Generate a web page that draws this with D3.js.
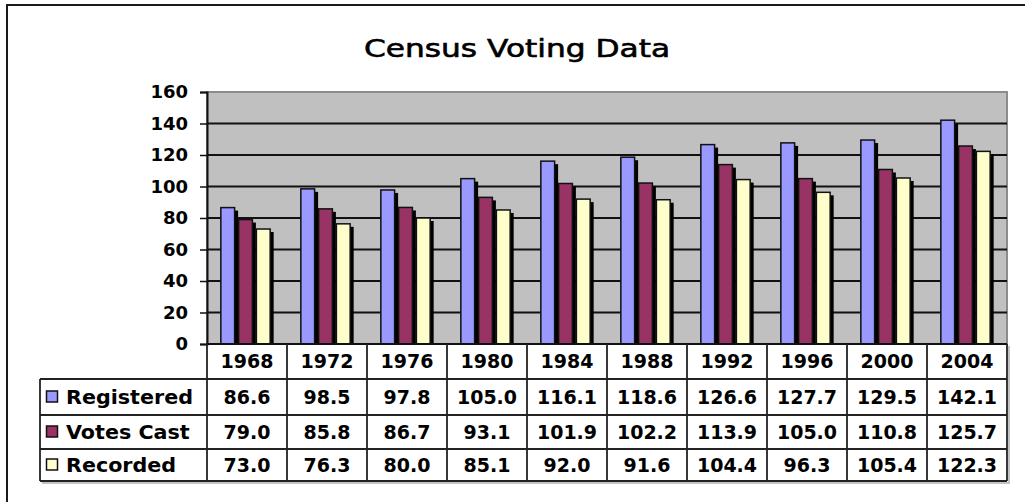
<!DOCTYPE html>
<html>
<head>
<meta charset="utf-8">
<script src="https://cdn.jsdelivr.net/npm/d3@7"></script>
<style>
  body { margin: 0; background: #fff; }
  svg text { font-family: "DejaVu Sans", sans-serif; }
</style>
</head>
<body>
<script>
const width = 1025;
const height = 502;

// data
const years = ["1968", "1972", "1976", "1980", "1984", "1988", "1992", "1996", "2000", "2004"];
const seriesNames = ["Registered", "Votes Cast", "Recorded"];
const registered = [86.6, 98.5, 97.8, 105.0, 116.1, 118.6, 126.6, 127.7, 129.5, 142.1];
const votesCast = [79.0, 85.8, 86.7, 93.1, 101.9, 102.2, 113.9, 105.0, 110.8, 125.7];
const recorded = [73.0, 76.3, 80.0, 85.1, 92.0, 91.6, 104.4, 96.3, 105.4, 122.3];
const yTicks = [0, 20, 40, 60, 80, 100, 120, 140, 160];
const colors = ["#9999ff", "#993366", "#ffffcc"];

const seriesValues = [registered, votesCast, recorded];

const svg = d3.select("body").append("svg").attr("width", width).attr("height", height);

// outer frame (cut off at right and bottom)
svg.append("rect")
    .attr("x", 7).attr("y", 5)
    .attr("width", width + 20).attr("height", height + 20)
    .attr("fill", "none").attr("stroke", "#1a1a1a").attr("stroke-width", 2);

// title
svg.append("text")
    .attr("transform", "translate(517,57) scale(1.25,1)")
    .attr("text-anchor", "middle")
    .attr("font-size", "25px")
    .attr("fill", "#000")
    .attr("stroke", "#000").attr("stroke-width", 0.6)
    .text("Census Voting Data");

// scales
const x0 = d3.scaleBand().domain(years).range([207, 1007]).paddingInner(0).paddingOuter(0);
const x1 = d3.scaleBand().domain(seriesNames).range([0, x0.bandwidth()]).paddingOuter(0.75);
const y = d3.scaleLinear().domain([0, 160]).range([344, 92]);

// plot area
svg.append("rect")
    .attr("x", x0.range()[0]).attr("y", y(160))
    .attr("width", x0.range()[1] - x0.range()[0]).attr("height", y(0) - y(160))
    .attr("fill", "#c0c0c0")
    .attr("stroke", "#8c8c8c").attr("stroke-width", 2);

// gridlines
svg.append("g").selectAll("line")
    .data(yTicks.filter(d => d > 0 && d < 160))
    .enter().append("line")
    .attr("x1", x0.range()[0]).attr("x2", x0.range()[1])
    .attr("y1", d => y(d)).attr("y2", d => y(d))
    .attr("stroke", "#111").attr("stroke-width", 1.8);

// y axis
const yAxis = d3.axisLeft(y).tickValues(yTicks).tickSize(7).tickPadding(12).tickFormat(d3.format("d"));
const gy = svg.append("g").attr("transform", "translate(" + x0.range()[0] + ",0)").call(yAxis);
gy.select(".domain").attr("stroke", "#111").attr("stroke-width", 2);
gy.selectAll(".tick line").attr("stroke", "#111").attr("stroke-width", 1.5);
gy.selectAll(".tick text")
    .attr("font-family", "DejaVu Sans")
    .attr("font-weight", "bold")
    .attr("font-size", "18px")
    .attr("fill", "#000");

// bars with shadow
const shadow = 3;
const groups = svg.append("g").selectAll("g")
    .data(years)
    .enter().append("g")
    .attr("transform", d => "translate(" + x0(d) + ",0)");

groups.each(function(year, i) {
    const g = d3.select(this);
    const vals = seriesNames.map((s, k) => ({ s: s, k: k, v: seriesValues[k][i] }));
    vals.forEach(d => {
        g.append("rect")
            .attr("x", x1(d.s) + shadow)
            .attr("y", y(d.v) + shadow)
            .attr("width", x1.bandwidth() - shadow)
            .attr("height", y(0) - y(d.v) - shadow)
            .attr("fill", "#000");
    });
    vals.forEach(d => {
        g.append("rect")
            .attr("x", x1(d.s) + 0.5)
            .attr("y", y(d.v))
            .attr("width", x1.bandwidth() - shadow - 1)
            .attr("height", y(0) - y(d.v))
            .attr("fill", colors[d.k])
            .attr("stroke", "#111").attr("stroke-width", 1.5);
    });
});

// x axis line
svg.append("line")
    .attr("x1", x0.range()[0]).attr("x2", x0.range()[1])
    .attr("y1", y(0)).attr("y2", y(0))
    .attr("stroke", "#111").attr("stroke-width", 2);

// data table
const rowTops = [344, 379, 415, 449, 481];
const tableLeft = 40;
const tbl = svg.append("g");

// table shadow
tbl.append("path")
    .attr("d", "M" + (tableLeft + 2) + "," + (rowTops[4] + 2) + "H" + (x0.range()[1] + 2) + "V" + (rowTops[0] + 2))
    .attr("fill", "none").attr("stroke", "#b0b0b0").attr("stroke-width", 1.5);

// horizontal rules
tbl.selectAll(".hrule")
    .data(rowTops.slice(1))
    .enter().append("line")
    .attr("x1", tableLeft).attr("x2", x0.range()[1])
    .attr("y1", d => d).attr("y2", d => d)
    .attr("stroke", "#222").attr("stroke-width", 1.8);

// vertical rules
tbl.selectAll(".vrule")
    .data(years.map(d => x0(d)).concat([x0.range()[1]]))
    .enter().append("line")
    .attr("x1", d => d).attr("x2", d => d)
    .attr("y1", rowTops[0]).attr("y2", rowTops[4])
    .attr("stroke", "#222").attr("stroke-width", 1.8);

tbl.append("line")
    .attr("x1", tableLeft).attr("x2", tableLeft)
    .attr("y1", rowTops[1]).attr("y2", rowTops[4])
    .attr("stroke", "#222").attr("stroke-width", 1.8);

// header years
tbl.selectAll(".yr")
    .data(years)
    .enter().append("text")
    .attr("x", d => x0(d) + x0.bandwidth() / 2)
    .attr("y", (rowTops[0] + rowTops[1]) / 2)
    .attr("dy", "0.36em")
    .attr("text-anchor", "middle")
    .attr("font-weight", "bold")
    .attr("font-size", "19px")
    .text(d => d);

// rows
seriesNames.forEach((name, k) => {
    const cy = (rowTops[k + 1] + rowTops[k + 2]) / 2;
    tbl.append("rect")
        .attr("x", 46.5).attr("y", cy - 6)
        .attr("width", 11).attr("height", 11)
        .attr("fill", colors[k])
        .attr("stroke", "#111").attr("stroke-width", 1.5);
    tbl.append("text")
        .attr("transform", "translate(66," + cy + ") scale(1.06,1)")
        .attr("dy", "0.36em")
        .attr("font-weight", "bold")
        .attr("font-size", "19.5px")
        .text(name);
    tbl.selectAll(".v" + k)
        .data(seriesValues[k])
        .enter().append("text")
        .attr("x", (d, i) => x0(years[i]) + x0.bandwidth() / 2)
        .attr("y", cy)
        .attr("dy", "0.36em")
        .attr("text-anchor", "middle")
        .attr("font-weight", "bold")
        .attr("font-size", "19px")
        .text(d => d3.format(".1f")(d));
});
</script>
</body>
</html>
